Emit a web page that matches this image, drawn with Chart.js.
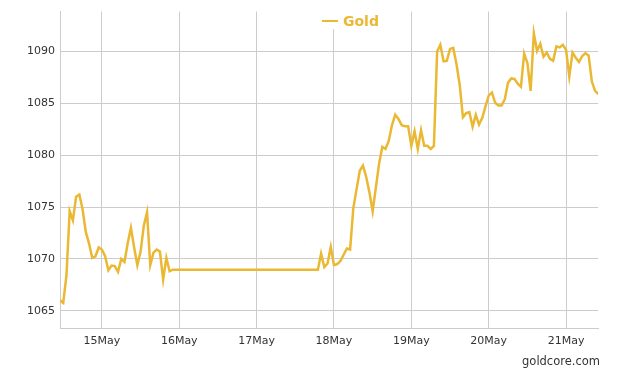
<!DOCTYPE html>
<html>
<head>
<meta charset="utf-8">
<script src="https://cdn.jsdelivr.net/npm/chart.js"></script>
<style>
  html, body { margin: 0; padding: 0; background: #fff; }
</style>
</head>
<body>
<canvas id="goldChart" width="621" height="372"></canvas>
<script>
// hours counted from 14 May 00:00
const hours = [
  11, 12, 13, 14, 15, 16, 17, 18, 19, 20, 21, 22, 23,
  24, 25, 26, 27, 28, 29, 30, 31, 32, 33, 34, 35, 36, 37, 38, 39, 40, 41, 42, 43, 44, 45, 46,
  91, 92, 93, 94, 95,
  96, 97, 98, 99, 100, 101, 102, 103, 104, 105, 106, 107, 108, 109, 110, 111, 112, 113, 114, 115, 116, 117, 118, 119,
  120, 121, 122, 123, 124, 125, 126, 127, 128, 129, 130, 131, 132, 133, 134, 135, 136, 137, 138, 139, 140, 141, 142, 143,
  144, 145, 146, 147, 148, 149, 150, 151, 152, 153, 154, 155, 156, 157, 158, 159, 160, 161, 162, 163, 164, 165, 166, 167,
  168, 169, 170, 171, 172, 173, 174, 175, 176, 177, 178
];
const goldPrices = [
  1066.0, 1065.75, 1068.4, 1074.6, 1073.7, 1076.0, 1076.2, 1074.8, 1072.6, 1071.5, 1070.1, 1070.25, 1071.1,
  1070.9, 1070.25, 1068.9, 1069.35, 1069.3, 1068.75, 1070.0, 1069.7, 1071.5, 1073.0, 1071.1, 1069.4, 1070.7, 1073.2, 1074.5, 1069.4, 1070.6, 1070.9, 1070.7, 1068.0, 1070.1, 1068.8, 1068.95,
  1068.95, 1070.5, 1069.2, 1069.55, 1071.15,
  1069.4, 1069.5, 1069.8, 1070.4, 1071.0, 1070.9, 1074.9, 1076.7, 1078.5, 1079.0, 1077.9, 1076.4, 1074.6, 1076.9, 1079.2, 1080.8, 1080.6, 1081.4, 1082.9, 1083.9, 1083.5, 1082.9, 1082.8, 1082.8,
  1080.9, 1082.3, 1080.6, 1082.4, 1080.9, 1080.9, 1080.6, 1080.9, 1090.0, 1090.65, 1089.05, 1089.1, 1090.25, 1090.35, 1088.8, 1086.8, 1083.65, 1084.05, 1084.15, 1082.75, 1083.9, 1082.95, 1083.6, 1084.7,
  1085.75, 1086.05, 1085.05, 1084.8, 1084.8, 1085.4, 1087.0, 1087.4, 1087.35, 1086.9, 1086.6, 1089.8, 1088.9, 1086.2, 1091.75, 1090.05, 1090.75, 1089.5, 1089.9, 1089.3, 1089.1, 1090.5, 1090.4, 1090.65,
  1090.15, 1087.6, 1089.9, 1089.4, 1089.0, 1089.55, 1089.85, 1089.6, 1087.1, 1086.2, 1085.9
];
const dayTicks = [24, 48, 72, 96, 120, 144, 168];
const dayLabels = ['15May', '16May', '17May', '18May', '19May', '20May', '21May'];
const priceTicks = [1065, 1070, 1075, 1080, 1085, 1090];

const gold = '#EAB833';
const gridColor = '#cccccc';
const textColor = '#333333';
const tickFont = { family: 'DejaVu Sans', size: 11 };

// legend sits on top of the plot with a white backing, credit at bottom right
const overlay = {
  id: 'overlay',
  afterDraw(chart) {
    const c = chart.ctx;
    c.save();
    c.fillStyle = '#ffffff';
    c.fillRect(316, 11, 68, 18);
    c.strokeStyle = gold;
    c.lineWidth = 2;
    c.beginPath();
    c.moveTo(322, 21);
    c.lineTo(338, 21);
    c.stroke();
    c.fillStyle = gold;
    c.font = 'bold 14px "DejaVu Sans"';
    c.textBaseline = 'alphabetic';
    c.fillText('Gold', 343, 26);
    c.fillStyle = textColor;
    c.font = '11.5px "DejaVu Sans"';
    c.textAlign = 'right';
    c.fillText('goldcore.com', 600, 365);
    c.restore();
  }
};

new Chart(document.getElementById('goldChart'), {
  type: 'line',
  data: {
    datasets: [{
      label: 'Gold',
      data: hours.map((h, i) => ({ x: h, y: goldPrices[i] })),
      borderColor: gold,
      backgroundColor: gold,
      borderWidth: 2.5,
      pointRadius: 0,
      tension: 0,
      fill: false
    }]
  },
  options: {
    responsive: false,
    animation: false,
    devicePixelRatio: 1,
    layout: { padding: { top: 11, right: 22.7, left: 0, bottom: 0 } },
    plugins: {
      legend: { display: false },
      tooltip: { enabled: false }
    },
    scales: {
      x: {
        type: 'linear',
        min: hours[0],
        max: hours[hours.length - 1],
        afterBuildTicks: s => { s.ticks = dayTicks.map(v => ({ value: v })); },
        afterFit: s => { s.height = 44; },
        ticks: {
          autoSkip: false,
          maxRotation: 0,
          padding: 7,
          color: textColor,
          font: tickFont,
          callback: (v, i) => dayLabels[i]
        },
        grid: { color: gridColor, drawTicks: false },
        border: { color: gridColor }
      },
      y: {
        min: 1063.33,
        max: 1093.85,
        afterBuildTicks: s => { s.ticks = priceTicks.map(v => ({ value: v })); },
        afterFit: s => { s.width = 60; },
        ticks: {
          padding: 5,
          color: textColor,
          font: tickFont,
          callback: v => String(v)
        },
        grid: { color: gridColor, drawTicks: false },
        border: { color: gridColor }
      }
    }
  },
  plugins: [overlay]
});
</script>
</body>
</html>
